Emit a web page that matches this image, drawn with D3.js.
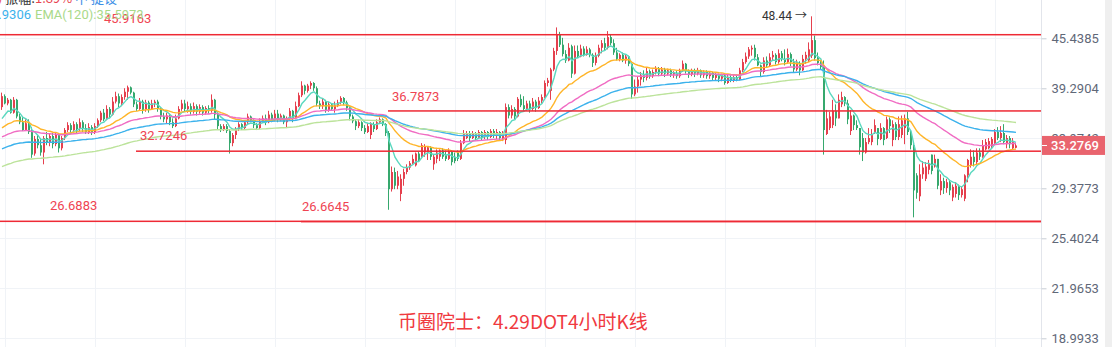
<!DOCTYPE html>
<html>
<head>
<meta charset="utf-8">
<script src="https://cdn.jsdelivr.net/npm/d3@7"></script>
<style>
html, body { margin: 0; padding: 0; background: #fff; overflow: hidden; }
svg { display: block; font-family: Roboto, "Noto Sans CJK SC", sans-serif; }
</style>
</head>
<body>
<div id="chart"></div>
<script>
// 4h candles [open, high, low, close]
const candles = [
[37.2,38.8,36.9,38.4],[38.4,38.6,37.5,37.6],[37.6,38.2,37.4,38.0],[38.0,38.1,36.5,36.6],[36.6,38.3,36.5,38.0],
[38.0,38.1,36.0,36.2],[36.2,36.5,35.4,35.6],[35.6,36.2,34.7,34.8],[34.8,35.9,34.7,35.5],[35.5,35.9,34.4,34.6],
[34.6,35.1,32.1,32.4],[32.5,34.2,32.3,33.9],[33.9,34.3,33.0,33.3],[33.3,34.0,32.3,32.6],[32.6,34.2,31.5,34.0],
[34.0,34.6,33.3,33.6],[33.6,34.5,33.2,34.2],[34.2,34.5,33.0,33.4],[33.4,34.6,33.2,34.3],[34.3,34.4,32.6,33.0],
[33.0,34.2,32.8,34.0],[34.0,35.0,33.8,34.8],[34.8,35.6,34.6,35.3],[35.3,35.5,34.5,34.8],[34.8,35.7,34.6,35.4],
[35.4,35.6,34.5,34.9],[34.9,36.0,34.7,35.6],[35.6,35.8,34.6,35.0],[35.0,35.4,34.4,34.6],[34.6,35.5,34.4,35.1],
[35.1,35.3,34.3,34.6],[34.6,35.5,34.4,35.2],[35.2,36.0,35.0,35.8],[35.8,36.8,35.6,36.6],[36.6,37.0,35.7,35.9],
[35.9,37.4,35.8,37.0],[37.0,37.2,36.0,36.4],[36.4,38.3,36.3,37.8],[37.8,38.9,37.6,38.4],[38.4,38.7,37.2,37.6],
[37.6,38.6,37.3,38.3],[38.3,39.3,38.0,38.9],[38.9,39.6,38.0,39.4],[39.4,39.5,38.6,38.8],[38.8,38.9,37.2,37.5],
[37.5,37.8,36.8,37.0],[37.0,38.2,36.9,37.8],[37.8,38.0,36.5,36.9],[36.9,38.0,36.7,37.7],[37.7,37.9,36.6,37.0],
[37.0,38.0,36.9,37.6],[37.6,38.0,37.2,37.8],[37.8,38.0,36.7,37.0],[37.0,37.2,35.9,36.2],[36.2,36.6,35.6,35.9],
[35.9,36.6,35.5,36.3],[36.3,36.5,35.3,35.6],[35.6,36.0,35.0,35.2],[35.2,36.4,35.1,36.0],[36.0,37.3,35.9,37.0],
[37.0,38.0,36.8,37.6],[37.6,38.0,36.7,37.0],[37.0,37.8,36.6,37.3],[37.3,37.6,36.4,36.7],[36.7,37.7,36.5,37.3],
[37.3,37.5,36.3,36.7],[36.7,37.5,36.5,37.2],[37.2,37.4,36.3,36.6],[36.6,37.3,36.4,37.1],[37.1,37.4,36.5,36.8],
[36.8,38.6,36.6,38.0],[38.0,38.1,35.9,36.4],[36.4,36.6,34.9,35.2],[35.2,35.4,34.6,34.9],[34.9,35.4,34.7,35.2],
[35.2,35.4,34.5,34.7],[34.7,34.9,32.5,33.5],[33.5,34.5,33.2,34.3],[34.3,35.1,33.9,34.9],[34.9,35.6,34.7,35.4],
[35.4,35.5,34.8,35.0],[35.0,35.8,34.9,35.6],[35.6,36.5,35.4,36.2],[36.2,36.3,35.6,35.8],[35.8,35.9,35.0,35.3],
[35.3,35.5,34.8,35.0],[35.0,36.0,34.9,35.7],[35.7,36.3,35.5,36.0],[36.0,36.4,35.3,35.6],[35.6,36.8,35.5,36.4],
[36.4,36.6,35.6,35.8],[35.8,36.9,35.7,36.5],[36.5,36.9,35.6,35.9],[35.9,36.5,35.7,36.3],[36.3,36.4,35.4,35.6],
[35.6,36.2,35.0,36.0],[36.0,37.1,35.8,36.8],[36.8,36.9,35.6,36.0],[36.0,37.8,35.9,37.3],[37.3,38.8,37.2,38.5],
[38.5,40.1,38.3,39.6],[39.6,39.7,38.6,39.0],[39.0,39.8,38.8,39.6],[39.6,40.1,39.2,39.9],[39.9,40.0,39.0,39.3],
[39.3,39.5,37.3,37.6],[37.6,37.9,37.0,37.3],[37.3,38.2,37.0,37.8],[37.8,38.0,36.6,36.9],[36.9,37.8,36.7,37.5],
[37.5,37.6,36.8,37.0],[37.0,37.8,36.6,37.4],[37.4,38.0,37.2,37.7],[37.7,38.4,37.5,38.2],[38.2,38.3,37.4,37.7],
[37.7,37.9,36.8,37.1],[37.1,37.2,35.8,36.2],[36.2,36.4,35.5,35.7],[35.7,35.9,34.8,35.2],[35.2,35.9,35.0,35.6],
[35.6,35.7,34.7,35.0],[35.0,35.3,34.4,34.6],[34.6,35.5,34.5,35.2],[34.3,35.6,33.9,35.4],[35.4,35.6,34.6,34.9],
[34.9,35.9,34.8,35.6],[35.6,36.1,35.4,35.9],[35.9,36.0,35.2,35.4],[35.4,35.5,34.2,34.5],[34.5,34.7,27.6,29.3],
[29.3,31.3,29.1,30.8],[30.8,31.2,29.3,29.6],[29.6,30.9,29.3,30.4],[28.9,30.6,28.3,30.2],[30.2,31.1,29.6,30.8],
[30.8,31.5,30.6,31.2],[31.2,31.8,31.0,31.6],[31.6,32.4,31.5,32.0],[31.4,32.6,31.3,32.5],[32.5,32.7,31.7,31.9],
[32.2,33.5,32.1,33.3],[32.6,33.4,32.2,33.2],[32.7,33.2,31.9,33.1],[33.1,33.2,31.9,32.2],[31.5,32.4,31.0,32.2],
[32.0,32.9,31.6,32.6],[32.2,32.9,31.8,32.8],[32.8,33.0,32.0,32.2],[32.4,32.8,31.8,32.0],[32.0,33.0,31.9,32.7],
[32.7,32.8,31.4,31.7],[32.2,32.6,31.6,31.8],[32.6,32.8,31.8,32.0],[32.0,33.8,31.9,33.5],[33.5,34.8,33.4,34.4],
[34.0,34.7,33.9,34.5],[34.5,34.7,33.7,34.0],[34.0,34.7,33.9,34.5],[34.5,34.6,33.8,34.0],[34.0,34.8,33.9,34.6],
[34.6,34.7,33.8,34.1],[34.1,34.8,33.9,34.6],[34.6,34.7,33.8,34.1],[34.1,34.9,34.0,34.7],[34.7,34.9,34.0,34.2],
[34.2,34.9,33.9,34.6],[34.6,34.7,33.8,34.0],[34.0,34.7,33.7,34.5],[33.8,37.6,33.4,37.2],[37.2,37.5,36.0,36.3],
[36.3,37.4,36.0,37.0],[37.0,37.2,35.9,36.2],[36.2,38.3,36.1,38.1],[38.1,38.6,37.2,37.4],[37.4,38.4,36.8,37.0],
[37.0,37.9,36.8,37.6],[37.6,37.9,36.6,37.0],[37.0,38.2,36.8,37.8],[37.8,38.0,36.7,37.1],[37.1,38.3,37.0,37.9],
[37.9,38.6,37.6,38.3],[38.3,40.2,38.2,39.9],[39.9,40.5,39.5,40.2],[39.0,41.7,38.0,41.5],[41.5,44.2,41.3,43.8],
[43.8,46.9,43.3,46.0],[46.0,46.3,44.3,44.6],[44.6,45.5,43.1,43.4],[43.4,43.9,42.3,42.6],[42.6,44.8,42.5,44.2],
[44.4,44.6,40.5,41.0],[41.0,44.5,40.9,43.8],[43.8,44.5,42.9,43.1],[43.1,44.6,43.0,44.1],[44.1,44.4,43.1,43.3],
[43.3,44.4,43.2,44.0],[44.0,44.2,43.0,43.3],[43.3,43.5,41.8,42.3],[42.3,43.6,42.0,43.2],[43.2,44.6,43.0,44.2],
[44.2,45.2,43.5,44.8],[44.8,45.5,43.9,44.2],[44.2,46.4,44.0,45.6],[45.6,45.9,44.5,44.8],[44.8,45.3,43.3,43.6],
[43.6,44.2,42.6,42.8],[42.8,43.5,42.5,43.3],[43.3,43.6,42.4,42.6],[42.6,43.3,42.2,43.1],[43.1,43.2,41.9,42.2],
[42.2,42.3,38.1,38.6],[38.6,40.3,38.4,39.5],[39.5,40.7,38.8,40.3],[40.3,41.2,39.6,40.8],[40.8,41.4,40.0,40.5],
[40.5,41.7,40.2,41.3],[41.3,41.5,40.4,40.7],[40.7,41.5,40.5,41.2],[41.2,41.9,40.9,41.6],[41.6,41.8,40.7,41.0],
[41.0,41.8,40.8,41.5],[41.5,41.7,40.6,41.0],[41.0,41.6,40.8,41.4],[41.4,41.6,40.6,40.9],[40.9,41.3,40.5,41.1],
[41.1,41.3,40.4,40.7],[40.7,41.6,40.5,41.3],[41.3,42.6,41.2,42.2],[42.2,42.3,41.0,41.3],[41.3,41.5,40.5,40.9],
[40.9,41.6,40.7,41.4],[41.4,41.6,40.6,41.0],[41.0,41.7,40.8,41.4],[41.4,41.5,40.5,40.8],[40.8,41.4,40.5,41.2],
[41.2,41.4,40.4,40.7],[40.7,41.3,40.4,41.1],[41.1,41.2,40.2,40.5],[40.5,41.1,40.2,40.9],[40.9,41.0,40.0,40.4],
[40.4,41.0,40.1,40.8],[40.8,40.9,39.7,39.9],[39.9,40.9,39.8,40.6],[40.6,40.8,40.0,40.2],[40.2,40.8,40.0,40.6],
[40.6,40.9,40.1,40.3],[40.3,41.7,40.2,41.4],[41.4,42.8,41.2,42.4],[42.4,43.6,42.2,43.1],[43.1,44.3,42.8,44.0],
[44.0,44.5,43.2,44.2],[44.2,44.6,42.6,43.0],[43.0,43.4,41.9,42.0],[42.0,42.1,40.7,41.2],[41.2,43.0,41.0,42.6],
[42.6,43.1,41.8,42.0],[42.0,43.5,41.9,43.0],[43.0,43.8,42.6,43.3],[43.3,43.5,42.1,42.4],[42.4,44.0,42.2,43.5],
[43.5,43.8,42.5,42.8],[42.8,44.0,42.0,42.4],[42.4,44.1,42.2,43.4],[43.4,43.6,41.9,42.4],[42.4,42.8,41.2,41.5],
[41.5,42.7,41.3,42.3],[42.3,42.5,40.8,41.4],[41.4,43.3,41.3,42.8],[42.8,43.7,42.2,43.3],[42.6,44.9,42.4,44.0],
[43.2,48.44,42.9,45.2],[45.2,45.8,42.6,42.9],[42.9,43.6,42.0,42.3],[42.3,42.6,41.5,41.8],[41.8,42.6,32.4,34.8],
[34.4,36.9,34.3,36.0],[35.0,36.7,34.8,36.2],[35.3,38.0,35.0,36.8],[36.8,37.5,35.2,36.0],[36.0,38.6,36.0,38.0],
[37.5,38.9,37.2,38.3],[38.3,38.4,37.3,37.6],[37.6,38.0,35.4,35.9],[34.7,36.9,34.3,36.3],[36.3,36.4,34.8,35.3],
[35.3,35.8,34.8,35.0],[35.0,35.0,32.4,33.1],[34.0,34.5,31.8,32.6],[32.6,34.0,32.5,33.6],[33.6,35.0,33.4,34.0],
[33.6,34.9,33.3,34.3],[34.6,35.9,34.4,35.3],[35.0,35.0,33.3,33.9],[33.9,35.5,33.8,35.0],[35.0,35.1,33.3,33.8],
[34.0,36.2,33.9,35.9],[35.9,36.1,34.5,35.2],[33.8,35.8,33.2,35.4],[35.4,35.6,33.8,34.1],[34.1,36.2,33.8,35.4],
[34.3,36.3,34.0,35.8],[35.0,36.4,33.4,36.0],[36.0,36.7,34.3,34.6],[34.6,34.7,32.9,33.3],[33.3,33.4,27.0,29.2],
[30.5,30.7,28.5,29.0],[28.7,31.5,28.3,30.6],[30.6,31.8,30.2,31.2],[30.2,31.7,30.0,31.3],[31.0,31.9,30.6,31.6],
[32.4,32.4,30.6,30.9],[31.3,32.4,31.2,32.0],[32.0,32.0,29.3,29.6],[29.2,30.6,28.8,30.0],[30.0,30.3,28.9,29.4],
[29.4,30.2,29.0,29.9],[29.9,30.1,28.8,29.2],[28.6,29.7,28.3,29.5],[28.9,29.9,28.6,29.6],[29.6,29.7,28.4,28.8],
[28.8,29.5,28.6,29.3],[28.5,30.6,28.3,30.5],[30.5,32.0,29.9,31.9],[31.4,32.9,31.2,32.2],[32.2,32.8,31.3,31.7],
[31.7,33.0,31.5,32.6],[32.6,33.0,31.9,32.2],[32.2,33.8,32.1,33.3],[32.9,33.9,32.8,33.6],[33.0,34.0,32.9,33.7],
[33.2,34.1,33.0,33.9],[33.5,34.9,33.4,34.6],[34.6,35.1,33.8,34.0],[34.0,35.2,33.6,34.5],[34.5,35.4,33.4,33.6],
[33.4,34.3,33.0,34.0],[34.0,34.2,33.0,33.4],[33.0,34.0,32.9,33.6],[33.05,33.5,33.0,33.2769]
];

// EMA settings and their values at the left edge
const emaPeriods = [7, 25, 50, 80, 120];
const emaStart = [35.97, 35.02, 34.11, 32.95, 31.29];
const emaColors = ["#5ad8bf", "#ffb529", "#f06cc3", "#3cb2ec", "#bce39b"];

const yTicks = [45.4385, 39.2904, 33.9742, 29.3773, 25.4024, 21.9653, 18.9933];
const lastPrice = 33.2769;

// horizontal price levels drawn on the chart
const levelValues = [45.9163, 36.7873, 32.7246, 26.6883, 26.6645];
const levelLabels = ["45.9163", "36.7873", "32.7246", "26.6883", "26.6645"];

const title = "币圈院士：4.29DOT4小时K线";

// ---- layout ----
const W = 1112, H = 347;
const plotRight = 1041;

const svg = d3.select("#chart").append("svg")
    .attr("width", W).attr("height", H);

const x = d3.scaleLinear().domain([0, candles.length - 1]).range([1, 1015]);
const y = d3.scaleLog().domain([18.9933, 45.4385]).range([338.3, 38.3]);

// grid
const grid = svg.append("g");
d3.range(5, plotRight, 90).forEach(gx => {
    grid.append("rect").attr("x", gx).attr("y", 0).attr("width", 1).attr("height", H).attr("fill", "#f0f3f7");
});
yTicks.forEach(t => {
    grid.append("rect").attr("x", 0).attr("y", Math.round(y(t))).attr("width", plotRight).attr("height", 1)
        .attr("fill", "#f0f3f7");
});

// right strip
svg.append("rect").attr("x", 1105).attr("y", 0).attr("width", 7).attr("height", H).attr("fill", "#efefef");

// candles
const up = "#e5404e", down = "#36a86d";
const cg = svg.append("g");
cg.selectAll(".wick").data(candles).enter().append("rect").attr("class", "wick")
    .attr("x", (d, i) => x(i)).attr("width", 1)
    .attr("y", d => y(d[1])).attr("height", d => y(d[2]) - y(d[1]))
    .attr("fill", d => d[3] >= d[0] ? up : down);
cg.selectAll(".body").data(candles).enter().append("rect").attr("class", "body")
    .attr("x", (d, i) => x(i)).attr("width", 2)
    .attr("y", d => y(Math.max(d[0], d[3])))
    .attr("height", d => Math.max(1, Math.abs(y(d[0]) - y(d[3]))))
    .attr("fill", d => d[3] >= d[0] ? up : down);

// EMA lines
emaPeriods.forEach((p, k) => {
    const a = 2 / (p + 1);
    const vals = [];
    let e = emaStart[k];
    candles.forEach((c, i) => {
        if (i > 0) e = e + a * (c[3] - e);
        vals.push(e);
    });
    svg.append("path").datum(vals)
        .attr("fill", "none").attr("stroke", emaColors[k]).attr("stroke-width", 1.4)
        .attr("d", d3.line().x((d, i) => x(i) + 1).y(d => y(d)));
});

// price levels (start candle index, label x)
const levelStart = [-1, 129, 45, -1, 100];
const levelLabelX = [104, 392, 140, 50, 302];
const levelLabelDy = [-12, -10, -11, -11, -11];
levelValues.forEach((v, k) => {
    const ly = y(v);
    const x0 = levelStart[k] < 0 ? 0 : Math.round(x(levelStart[k]));
    svg.append("rect")
        .attr("x", x0).attr("width", plotRight - x0)
        .attr("y", ly - 0.75).attr("height", 1.5)
        .attr("fill", "#ee2a35");
    svg.append("text").attr("x", levelLabelX[k]).attr("y", Math.round(ly) + levelLabelDy[k])
        .attr("font-size", 13).attr("fill", "#ef4452").text(levelLabels[k]);
});

// max annotation
const hiIdx = d3.maxIndex(candles, d => d[1]);
svg.append("text").attr("x", x(hiIdx) - 4).attr("y", y(candles[hiIdx][1]) + 4)
    .attr("text-anchor", "end").attr("font-size", 12).attr("fill", "#333")
    .text(d3.format(".2f")(candles[hiIdx][1]) + " \u2192");

// right axis
svg.append("rect").attr("x", plotRight).attr("y", 0).attr("width", 1).attr("height", H).attr("fill", "#e2e5eb");
const axis = svg.append("g").attr("transform", "translate(" + (plotRight + 0.5) + ",0)")
    .call(d3.axisRight(y).tickValues(yTicks).tickFormat(d3.format(".4f")).tickSize(5).tickPadding(5));
axis.select(".domain").remove();
axis.selectAll("line").attr("stroke", "#c8cdd5");
axis.selectAll("text").attr("font-size", 13).attr("fill", "#5f6878").attr("font-family", "Roboto");

// last price tag
const py = y(lastPrice);
svg.append("rect").attr("x", plotRight + 1).attr("y", py - 9.5).attr("width", 63).attr("height", 19)
    .attr("fill", "#e9646e");
svg.append("rect").attr("x", plotRight + 1).attr("y", Math.round(py)).attr("width", 5).attr("height", 1)
    .attr("fill", "#fff");
svg.append("text").attr("x", plotRight + 10).attr("y", py).attr("dy", "0.35em")
    .attr("font-size", 13).attr("font-weight", 500).attr("fill", "#fff")
    .text(d3.format(".4f")(lastPrice));

// legend (partly cut off at the top)
const lg1 = svg.append("text").attr("x", -2).attr("y", 3).attr("font-size", 13)
    .attr("font-family", "'Noto Sans CJK SC', Roboto, sans-serif");
lg1.append("tspan").attr("fill", "#e84450").text(") ");
lg1.append("tspan").attr("fill", "#333").text("振幅:");
lg1.append("tspan").attr("fill", "#e84450").text("1.89% ");
lg1.append("tspan").attr("fill", "#3a8ee6").text("中 提设");
svg.append("text").attr("x", 31).attr("y", 19).attr("text-anchor", "end")
    .attr("font-size", 13).attr("fill", emaColors[3]).text("34.9306");
svg.append("text").attr("x", 35).attr("y", 19)
    .attr("font-size", 13).attr("fill", "#a9d98a").text("EMA(120):35.5973");

// title
svg.append("text").attr("x", 398).attr("y", 329)
    .attr("font-family", "'Noto Sans CJK SC', sans-serif")
    .attr("font-size", 19).attr("fill", "#f03a3f").text(title);
</script>
</body>
</html>
